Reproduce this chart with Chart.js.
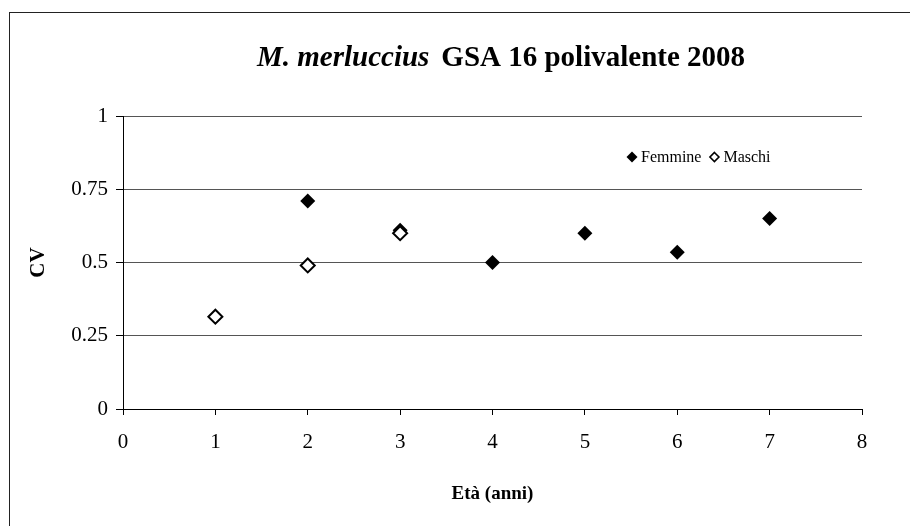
<!DOCTYPE html>
<html lang="it">
<head>
<meta charset="UTF-8">
<title>M. merluccius GSA 16 polivalente 2008</title>
<style>
    body{ margin:0; background:#fff; overflow:hidden; }
    .box{ position:relative; width:910px; height:526px; }
    .frame{ position:absolute; left:9px; top:12px; width:920px; height:540px; border:1px solid #222; }
    #cvChart{ position:absolute; left:0; top:0; }
</style>
</head>
<body>
<div class="box">
    <div class="frame"></div>
    <canvas id="cvChart" width="910" height="526"></canvas>
</div>
<script src="https://cdn.jsdelivr.net/npm/chart.js"></script>
<script>
// valori (CV per età)
var etaFemmine = [2, 3, 4, 5, 6, 7];
var cvFemmine  = [0.71, 0.61, 0.50, 0.60, 0.535, 0.65];
var etaMaschi  = [1, 2, 3];
var cvMaschi   = [0.315, 0.49, 0.60];
var yTicks = [0, 0.25, 0.5, 0.75, 1];
var yTickLabels = ['0', '0.25', '0.5', '0.75', '1'];
var titoloCorsivo = 'M. merluccius';
var titoloResto = 'GSA 16 polivalente 2008';

function toPoints(xs, ys){
    var out = [];
    for (var i = 0; i < xs.length; i++) out.push({x: xs[i], y: ys[i]});
    return out;
}

function diamond(ctx, x, y, r, filled){
    ctx.beginPath();
    ctx.moveTo(x, y - r);
    ctx.lineTo(x + r, y);
    ctx.lineTo(x, y + r);
    ctx.lineTo(x - r, y);
    ctx.closePath();
    if (filled){ ctx.fillStyle = '#000'; ctx.fill(); }
    else { ctx.fillStyle = '#fff'; ctx.fill(); ctx.lineWidth = 1.6; ctx.strokeStyle = '#000'; ctx.stroke(); }
}

var extraPlugin = {//titolo misto corsivo/grassetto + legenda dentro il grafico
    id: 'extra',
    afterDraw: function(chart){
        var ctx = chart.ctx;
        ctx.save();
        ctx.textBaseline = 'alphabetic';
        ctx.fillStyle = '#000';
        var f1 = 'italic bold 29px "Liberation Serif", "Times New Roman", serif';
        var f2 = 'bold 29px "Liberation Serif", "Times New Roman", serif';
        ctx.font = f1;
        var w1 = ctx.measureText(titoloCorsivo).width;
        ctx.font = f2;
        var gap = 12;
        var w2 = ctx.measureText(titoloResto).width;
        var x0 = 501 - (w1 + gap + w2) / 2;
        ctx.font = f1; ctx.textAlign = 'left';
        ctx.fillText(titoloCorsivo, x0, 66);
        ctx.font = f2;
        ctx.fillText(titoloResto, x0 + w1 + gap, 66);

        // legenda
        var ds = chart.data.datasets;
        ctx.font = '16px "Liberation Serif", "Times New Roman", serif';
        ctx.textBaseline = 'middle';
        var lx = 632, ly = 157;
        diamond(ctx, lx, ly, 5.5, true);
        ctx.fillStyle = '#000';
        ctx.fillText(ds[0].label, lx + 9, ly + 1);
        var lx2 = lx + 9 + ctx.measureText(ds[0].label).width + 13;
        diamond(ctx, lx2, ly, 4.5, false);
        ctx.fillStyle = '#000';
        ctx.fillText(ds[1].label, lx2 + 9, ly + 1);
        ctx.restore();
    }
};

var serif = '"Liberation Serif", "Times New Roman", serif';
var ctx = document.getElementById('cvChart').getContext('2d');
var cvChart = new Chart(ctx, {
    type: 'scatter',
    data: {
        datasets: [{
            label: 'Femmine',
            data: toPoints(etaFemmine, cvFemmine),
            pointStyle: 'rectRot',
            pointRadius: 7.5,
            pointHoverRadius: 7.5,
            backgroundColor: '#000',
            borderColor: '#000',
            borderWidth: 0,
            order: 1,
            clip: false
        }, {
            label: 'Maschi',
            data: toPoints(etaMaschi, cvMaschi),
            pointStyle: 'rectRot',
            pointRadius: 7,
            pointHoverRadius: 7,
            backgroundColor: '#fff',
            borderColor: '#000',
            borderWidth: 2,
            order: 0,
            clip: false
        }]
    },
    options: {
        responsive: false,
        animation: false,
        layout: { padding: { left: 0, top: 116, right: 48, bottom: 0 } },
        plugins: {
            legend: { display: false },
            title: { display: false },
            tooltip: { enabled: false }
        },
        scales: {
            x: {
                type: 'linear',
                min: 0, max: 8,
                afterFit: function(s){ s.height = 117; },
                border: { color: '#000', width: 1 },
                grid: { drawOnChartArea: false, drawTicks: true, tickLength: 6, tickColor: '#000' },
                ticks: { stepSize: 1, color: '#000', padding: 15, font: { family: serif, size: 21 } },
                title: { display: true, text: 'Età (anni)', color: '#000', padding: { top: 0, bottom: 21 },
                         font: { family: serif, size: 19, weight: 'bold' } }
            },
            y: {
                min: 0, max: 1,
                afterFit: function(s){ s.width = 123; },
                afterBuildTicks: function(s){ s.ticks = yTicks.map(function(v){ return {value: v}; }); },
                border: { color: '#000', width: 1 },
                grid: { color: '#555', lineWidth: 1, drawTicks: true, tickLength: 7, tickColor: '#000' },
                ticks: { color: '#000', padding: 8, font: { family: serif, size: 21 },
                         callback: function(v, i){ return yTickLabels[i]; } },
                title: { display: true, text: 'CV', color: '#000', padding: { top: 26, bottom: 0 },
                         font: { family: serif, size: 21, weight: 'bold' } }
            }
        }
    },
    plugins: [extraPlugin]
});
</script>
</body>
</html>
